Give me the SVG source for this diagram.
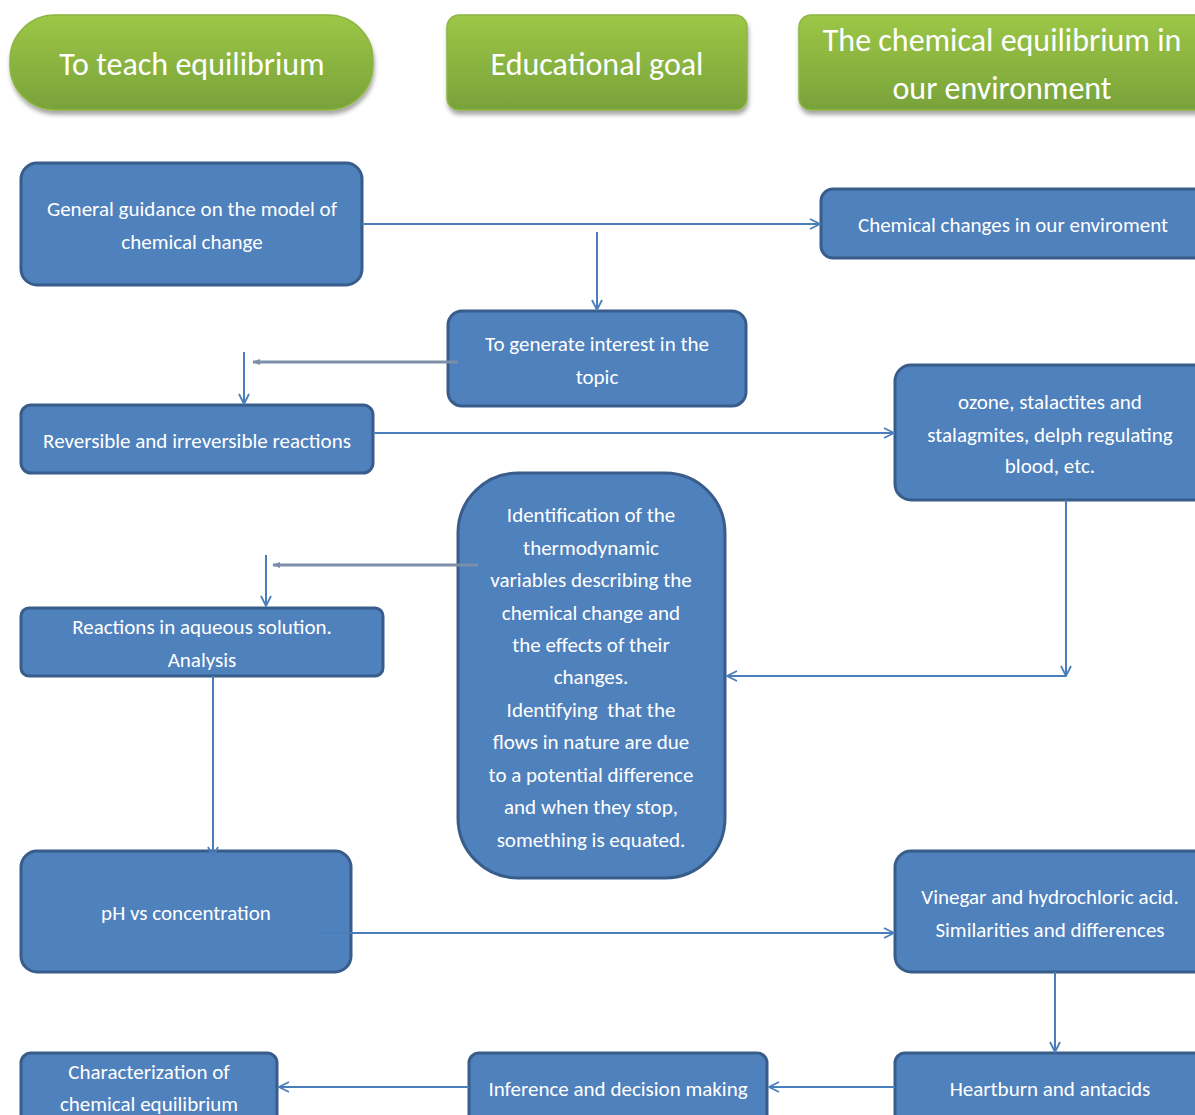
<svg xmlns="http://www.w3.org/2000/svg" width="1195" height="1115" viewBox="0 0 1195 1115">
<defs>
<linearGradient id="g" x1="0" y1="0" x2="0" y2="1">
<stop offset="0" stop-color="#9DC746"/>
<stop offset="1" stop-color="#78A23A"/>
</linearGradient>
<filter id="sh" x="-10%" y="-10%" width="120%" height="130%">
<feDropShadow dx="1" dy="4" stdDeviation="2" flood-color="#000" flood-opacity="0.35"/>
</filter>
<marker id="a" viewBox="0 0 12 12" refX="11" refY="6" markerWidth="12" markerHeight="12" markerUnits="userSpaceOnUse" orient="auto">
<path d="M1,1 L11,6 L1,11" fill="none" stroke="#4A7EBB" stroke-width="1.8"/>
</marker>
<marker id="b" viewBox="0 0 10 10" refX="9" refY="5" markerWidth="8" markerHeight="8" markerUnits="userSpaceOnUse" orient="auto">
<path d="M0,1 L10,5 L0,9 Z" fill="#7D8EA8"/>
</marker>
<style>
.hd{fill:url(#g);stroke:#8DB542;stroke-width:1.5;filter:url(#sh)}
.bx{fill:#4F81BD;stroke:#385D8A;stroke-width:3}
.ht{font-family:Carlito,Lato,"Liberation Sans",sans-serif;font-size:32px;fill:#fff;text-anchor:middle}
.t{font-family:Carlito,Lato,"Liberation Sans",sans-serif;font-size:21px;fill:#fff;text-anchor:middle}
.c{fill:none;stroke:#4A7EBB;stroke-width:2;marker-end:url(#a)}
.gr{fill:none;stroke:#7D8EA8;stroke-width:3;marker-end:url(#b)}
</style>
</defs>

<g id="h1"><rect class="hd" x="10" y="15" width="363" height="95" rx="45"/><text class="ht" x="192" y="75">To teach equilibrium</text></g>
<g id="h2"><rect class="hd" x="447" y="15" width="300" height="95" rx="12"/><text class="ht" x="597" y="75">Educational goal</text></g>
<g id="h3"><rect class="hd" x="799" y="15" width="410" height="95" rx="12"/><text class="ht" x="1002" y="51">The chemical equilibrium in</text><text class="ht" x="1002" y="99">our environment</text></g>

<g id="nA"><rect class="bx" x="21" y="163" width="341" height="122" rx="16"/><text class="t" x="192" y="216">General guidance on the model of</text><text class="t" x="192" y="249">chemical change</text></g>
<g id="nB"><rect class="bx" x="821" y="189" width="390" height="69" rx="12"/><text class="t" x="1013" y="232">Chemical changes in our enviroment</text></g>
<g id="nC"><rect class="bx" x="448" y="311" width="298" height="95" rx="14"/><text class="t" x="597" y="351">To generate interest in the</text><text class="t" x="597" y="384">topic</text></g>
<g id="nD"><rect class="bx" x="21" y="405" width="352" height="68" rx="10"/><text class="t" x="197" y="448">Reversible and irreversible reactions</text></g>
<g id="nE"><rect class="bx" x="895" y="365" width="315" height="135" rx="16"/><text class="t" x="1050" y="409">ozone, stalactites and</text><text class="t" x="1050" y="442">stalagmites, delph regulating</text><text class="t" x="1050" y="473">blood, etc.</text></g>
<g id="nF"><rect class="bx" x="458" y="473" width="267" height="405" rx="60"/>
<text class="t" x="591" y="522">Identification of the</text>
<text class="t" x="591" y="555">thermodynamic</text>
<text class="t" x="591" y="587">variables describing the</text>
<text class="t" x="591" y="620">chemical change and</text>
<text class="t" x="591" y="652">the effects of their</text>
<text class="t" x="591" y="684">changes.</text>
<text class="t" x="591" y="717" xml:space="preserve">Identifying  that the</text>
<text class="t" x="591" y="749">flows in nature are due</text>
<text class="t" x="591" y="782">to a potential difference</text>
<text class="t" x="591" y="814">and when they stop,</text>
<text class="t" x="591" y="847">something is equated.</text>
</g>
<g id="nG"><rect class="bx" x="21" y="608" width="362" height="68" rx="8"/><text class="t" x="202" y="634">Reactions in aqueous solution.</text><text class="t" x="202" y="667">Analysis</text></g>
<g id="nH"><rect class="bx" x="21" y="851" width="330" height="121" rx="16"/><text class="t" x="186" y="920">pH vs concentration</text></g>
<g id="nI"><rect class="bx" x="895" y="851" width="315" height="121" rx="16"/><text class="t" x="1050" y="904">Vinegar and hydrochloric acid.</text><text class="t" x="1050" y="937">Similarities and differences</text></g>
<g id="nJ"><rect class="bx" x="21" y="1053" width="256" height="80" rx="10"/><text class="t" x="149" y="1079">Characterization of</text><text class="t" x="149" y="1111">chemical equilibrium</text></g>
<g id="nK"><rect class="bx" x="469" y="1053" width="298" height="80" rx="10"/><text class="t" x="618" y="1096">Inference and decision making</text></g>
<g id="nL"><rect class="bx" x="895" y="1053" width="315" height="80" rx="10"/><text class="t" x="1050" y="1096">Heartburn and antacids</text></g>

<g id="connectors">
<path class="c" d="M362,224 H820"/>
<path class="c" d="M597,232 V310"/>
<path class="gr" d="M458,362 H253"/>
<path class="c" d="M244,352 V404"/>
<path class="c" d="M373,433 H894"/>
<path class="gr" d="M478,565 H273"/>
<path class="c" d="M266,555 V606"/>
<path class="c" d="M1066,500 V676"/>
<path class="c" d="M1066,676 H727"/>
<path class="c" d="M213,676 V857"/>
<path class="c" d="M320,933 H894"/>
<path class="c" d="M1055,972 V1052"/>
<path class="c" d="M895,1087 H769"/>
<path class="c" d="M469,1087 H279"/>
</g>
</svg>
